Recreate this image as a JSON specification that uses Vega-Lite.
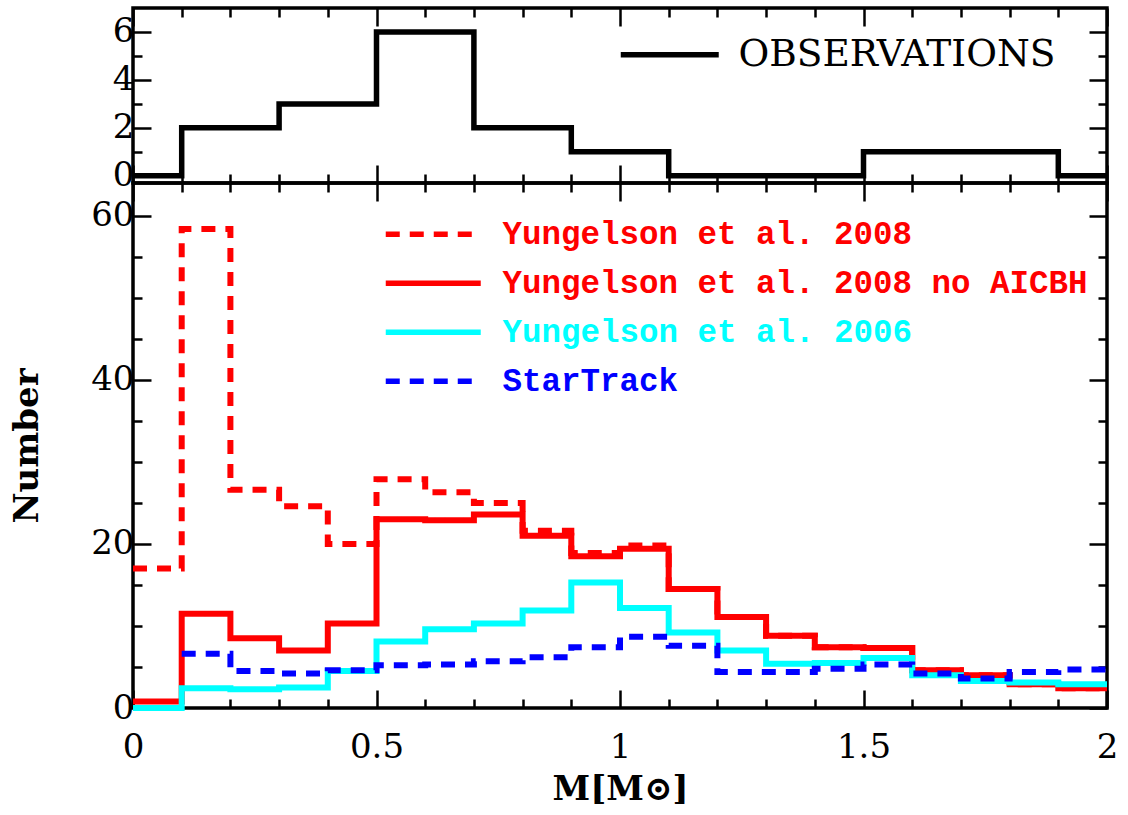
{
  "$schema": "https://vega.github.io/schema/vega-lite/v6.json",
  "background": "white",
  "padding": {"left": 8, "top": 5, "right": 5, "bottom": 5},
  "spacing": 0,
  "bounds": "flush",
  "config": {
    "view": {"stroke": "black", "strokeWidth": 3.5},
    "axis": {"domain": false, "grid": false, "labelFlush": false, "tickColor": "black", "tickWidth": 2.5, "labelFont": "DejaVu Serif", "labelFontSize": 34, "labelColor": "black", "titleFont": "DejaVu Serif", "titleFontSize": 34, "titleFontWeight": "bold", "titleColor": "black"}
  },
  "resolve": {"scale": {"color": "independent", "strokeDash": "independent"}},
  "datasets": {
    "obs": [
      {"series": "OBSERVATIONS", "x": 0, "y": 0},
      {"series": "OBSERVATIONS", "x": 0.1, "y": 2},
      {"series": "OBSERVATIONS", "x": 0.3, "y": 3},
      {"series": "OBSERVATIONS", "x": 0.5, "y": 6},
      {"series": "OBSERVATIONS", "x": 0.7, "y": 2},
      {"series": "OBSERVATIONS", "x": 0.9, "y": 1},
      {"series": "OBSERVATIONS", "x": 1.1, "y": 0},
      {"series": "OBSERVATIONS", "x": 1.5, "y": 1},
      {"series": "OBSERVATIONS", "x": 1.9, "y": 0},
      {"series": "OBSERVATIONS", "x": 2.0, "y": 0}
    ],
    "models": [
      {"series": "Yungelson et al. 2008", "x": 0, "y": 17.0},
      {"series": "Yungelson et al. 2008", "x": 0.1, "y": 58.4},
      {"series": "Yungelson et al. 2008", "x": 0.2, "y": 26.6},
      {"series": "Yungelson et al. 2008", "x": 0.3, "y": 24.6},
      {"series": "Yungelson et al. 2008", "x": 0.4, "y": 20.0},
      {"series": "Yungelson et al. 2008", "x": 0.5, "y": 27.9},
      {"series": "Yungelson et al. 2008", "x": 0.6, "y": 26.3},
      {"series": "Yungelson et al. 2008", "x": 0.7, "y": 25.0},
      {"series": "Yungelson et al. 2008", "x": 0.8, "y": 21.6},
      {"series": "Yungelson et al. 2008", "x": 0.9, "y": 18.9},
      {"series": "Yungelson et al. 2008", "x": 1.0, "y": 19.8},
      {"series": "Yungelson et al. 2008", "x": 1.1, "y": 14.5},
      {"series": "Yungelson et al. 2008", "x": 1.2, "y": 11.1},
      {"series": "Yungelson et al. 2008", "x": 1.3, "y": 8.8},
      {"series": "Yungelson et al. 2008", "x": 1.4, "y": 7.4},
      {"series": "Yungelson et al. 2008", "x": 1.5, "y": 7.3},
      {"series": "Yungelson et al. 2008", "x": 1.6, "y": 4.6},
      {"series": "Yungelson et al. 2008", "x": 1.7, "y": 4.0},
      {"series": "Yungelson et al. 2008", "x": 1.8, "y": 2.9},
      {"series": "Yungelson et al. 2008", "x": 1.9, "y": 2.4},
      {"series": "Yungelson et al. 2008", "x": 2.0, "y": 2.4},
      {"series": "Yungelson et al. 2008 no AICBH", "x": 0, "y": 0.8},
      {"series": "Yungelson et al. 2008 no AICBH", "x": 0.1, "y": 11.5},
      {"series": "Yungelson et al. 2008 no AICBH", "x": 0.2, "y": 8.5},
      {"series": "Yungelson et al. 2008 no AICBH", "x": 0.3, "y": 7.0},
      {"series": "Yungelson et al. 2008 no AICBH", "x": 0.4, "y": 10.3},
      {"series": "Yungelson et al. 2008 no AICBH", "x": 0.5, "y": 23.0},
      {"series": "Yungelson et al. 2008 no AICBH", "x": 0.6, "y": 22.9},
      {"series": "Yungelson et al. 2008 no AICBH", "x": 0.7, "y": 23.6},
      {"series": "Yungelson et al. 2008 no AICBH", "x": 0.8, "y": 21.0},
      {"series": "Yungelson et al. 2008 no AICBH", "x": 0.9, "y": 18.5},
      {"series": "Yungelson et al. 2008 no AICBH", "x": 1.0, "y": 19.4},
      {"series": "Yungelson et al. 2008 no AICBH", "x": 1.1, "y": 14.5},
      {"series": "Yungelson et al. 2008 no AICBH", "x": 1.2, "y": 11.1},
      {"series": "Yungelson et al. 2008 no AICBH", "x": 1.3, "y": 8.8},
      {"series": "Yungelson et al. 2008 no AICBH", "x": 1.4, "y": 7.4},
      {"series": "Yungelson et al. 2008 no AICBH", "x": 1.5, "y": 7.3},
      {"series": "Yungelson et al. 2008 no AICBH", "x": 1.6, "y": 4.6},
      {"series": "Yungelson et al. 2008 no AICBH", "x": 1.7, "y": 4.0},
      {"series": "Yungelson et al. 2008 no AICBH", "x": 1.8, "y": 2.9},
      {"series": "Yungelson et al. 2008 no AICBH", "x": 1.9, "y": 2.4},
      {"series": "Yungelson et al. 2008 no AICBH", "x": 2.0, "y": 2.4},
      {"series": "Yungelson et al. 2006", "x": 0, "y": 0},
      {"series": "Yungelson et al. 2006", "x": 0.1, "y": 2.4},
      {"series": "Yungelson et al. 2006", "x": 0.2, "y": 2.3},
      {"series": "Yungelson et al. 2006", "x": 0.3, "y": 2.5},
      {"series": "Yungelson et al. 2006", "x": 0.4, "y": 4.5},
      {"series": "Yungelson et al. 2006", "x": 0.5, "y": 8.1},
      {"series": "Yungelson et al. 2006", "x": 0.6, "y": 9.6},
      {"series": "Yungelson et al. 2006", "x": 0.7, "y": 10.3},
      {"series": "Yungelson et al. 2006", "x": 0.8, "y": 11.9},
      {"series": "Yungelson et al. 2006", "x": 0.9, "y": 15.3},
      {"series": "Yungelson et al. 2006", "x": 1.0, "y": 12.2},
      {"series": "Yungelson et al. 2006", "x": 1.1, "y": 9.2},
      {"series": "Yungelson et al. 2006", "x": 1.2, "y": 7.0},
      {"series": "Yungelson et al. 2006", "x": 1.3, "y": 5.4},
      {"series": "Yungelson et al. 2006", "x": 1.4, "y": 5.5},
      {"series": "Yungelson et al. 2006", "x": 1.5, "y": 6.1},
      {"series": "Yungelson et al. 2006", "x": 1.6, "y": 4.0},
      {"series": "Yungelson et al. 2006", "x": 1.7, "y": 3.3},
      {"series": "Yungelson et al. 2006", "x": 1.8, "y": 3.1},
      {"series": "Yungelson et al. 2006", "x": 1.9, "y": 2.9},
      {"series": "Yungelson et al. 2006", "x": 2.0, "y": 2.9},
      {"series": "StarTrack", "x": 0.1, "y": 6.6},
      {"series": "StarTrack", "x": 0.2, "y": 4.5},
      {"series": "StarTrack", "x": 0.3, "y": 4.2},
      {"series": "StarTrack", "x": 0.4, "y": 4.6},
      {"series": "StarTrack", "x": 0.5, "y": 5.2},
      {"series": "StarTrack", "x": 0.6, "y": 5.3},
      {"series": "StarTrack", "x": 0.7, "y": 5.7},
      {"series": "StarTrack", "x": 0.8, "y": 6.2},
      {"series": "StarTrack", "x": 0.9, "y": 7.4},
      {"series": "StarTrack", "x": 1.0, "y": 8.7},
      {"series": "StarTrack", "x": 1.1, "y": 7.6},
      {"series": "StarTrack", "x": 1.2, "y": 4.4},
      {"series": "StarTrack", "x": 1.3, "y": 4.4},
      {"series": "StarTrack", "x": 1.4, "y": 4.8},
      {"series": "StarTrack", "x": 1.5, "y": 5.3},
      {"series": "StarTrack", "x": 1.6, "y": 4.2},
      {"series": "StarTrack", "x": 1.7, "y": 3.6},
      {"series": "StarTrack", "x": 1.8, "y": 4.4},
      {"series": "StarTrack", "x": 1.9, "y": 4.7},
      {"series": "StarTrack", "x": 2.0, "y": 4.7}
    ]
  },
  "vconcat": [
    {
      "width": 974,
      "height": 175,
      "data": {"name": "obs"},
      "resolve": {"axis": {"x": "independent", "y": "independent"}},
      "layer": [
        {
          "mark": {"type": "line", "interpolate": "step-after", "strokeWidth": 5.5, "strokeCap": "butt", "strokeJoin": "miter"},
          "encoding": {
            "x": {"field": "x", "type": "quantitative", "scale": {"domain": [0, 2], "nice": false, "zero": false},
              "axis": {"orient": "bottom", "values": [0,0.1,0.2,0.3,0.4,0.5,0.6,0.7,0.8,0.9,1,1.1,1.2,1.3,1.4,1.5,1.6,1.7,1.8,1.9,2], "labels": false, "title": null,
                "tickSize": {"condition": {"test": "abs(datum.value*2 - round(datum.value*2)) < 0.001", "value": -18}, "value": -9}}},
            "y": {"field": "y", "type": "quantitative", "scale": {"domain": [-0.3, 7], "nice": false, "zero": false},
              "axis": {"orient": "left", "values": [0,1,2,3,4,5,6], "format": "d", "title": null, "labelPadding": 17,
                "labelExpr": "datum.value % 2 === 0 ? datum.label : ''",
                "tickSize": {"condition": {"test": "datum.value % 2 === 0", "value": -18}, "value": -9}}},
            "color": {"field": "series", "type": "nominal", "scale": {"domain": ["OBSERVATIONS"], "range": ["black"]},
              "legend": {"title": null, "orient": "none", "legendX": 518, "legendY": 28, "padding": 0,
                "symbolType": "M-4,0H4", "symbolSize": 600, "symbolStrokeWidth": 5.5, "symbolStrokeColor": "black",
                "labelFont": "DejaVu Serif", "labelFontSize": 37.5, "labelColor": "black", "labelOffset": 50, "labelLimit": 1000}}
          }
        },
        {
          "mark": {"type": "point", "opacity": 0},
          "encoding": {
            "x": {"field": "x", "type": "quantitative",
              "axis": {"orient": "top", "values": [0,0.1,0.2,0.3,0.4,0.5,0.6,0.7,0.8,0.9,1,1.1,1.2,1.3,1.4,1.5,1.6,1.7,1.8,1.9,2], "labels": false, "title": null,
                "tickSize": {"condition": {"test": "abs(datum.value*2 - round(datum.value*2)) < 0.001", "value": -18}, "value": -9}}},
            "y": {"field": "y", "type": "quantitative",
              "axis": {"orient": "right", "values": [0,1,2,3,4,5,6], "labels": false, "title": null,
                "tickSize": {"condition": {"test": "datum.value % 2 === 0", "value": -18}, "value": -9}}}
          }
        }
      ]
    },
    {
      "width": 974,
      "height": 525,
      "data": {"name": "models"},
      "resolve": {"axis": {"x": "independent", "y": "independent"}},
      "layer": [
        {
          "transform": [{"filter": "datum.series === 'Yungelson et al. 2008'"}],
          "mark": {"type": "line", "interpolate": "step-after", "strokeWidth": 6, "strokeCap": "butt", "strokeJoin": "miter"},
          "encoding": {
            "x": {"field": "x", "type": "quantitative", "scale": {"domain": [0, 2], "nice": false, "zero": false},
              "axis": {"orient": "bottom", "values": [0,0.1,0.2,0.3,0.4,0.5,0.6,0.7,0.8,0.9,1,1.1,1.2,1.3,1.4,1.5,1.6,1.7,1.8,1.9,2], "format": "~g", "title": "M[M⊙]", "labelPadding": 40, "titlePadding": 8,
                "labelExpr": "abs(datum.value*2 - round(datum.value*2)) < 0.001 ? datum.label : ''",
                "tickSize": {"condition": {"test": "abs(datum.value*2 - round(datum.value*2)) < 0.001", "value": -18}, "value": -9}}},
            "y": {"field": "y", "type": "quantitative", "scale": {"domain": [0, 64], "nice": false, "zero": false},
              "axis": {"orient": "left", "values": [0,5,10,15,20,25,30,35,40,45,50,55,60], "format": "d", "title": "Number", "labelPadding": 17, "titlePadding": 46,
                "labelExpr": "datum.value % 20 === 0 ? datum.label : ''",
                "tickSize": {"condition": {"test": "datum.value % 20 === 0", "value": -18}, "value": -9}}},
            "color": {"field": "series", "type": "nominal",
              "scale": {"domain": ["Yungelson et al. 2008", "Yungelson et al. 2008 no AICBH", "Yungelson et al. 2006", "StarTrack"], "range": ["#ff0000", "#ff0000", "#00ffff", "#0000ff"]},
              "legend": {"title": null, "orient": "none", "legendX": 284, "legendY": 35, "padding": 0,
                "symbolType": "M-4,0H4", "symbolSize": 564, "symbolStrokeWidth": 5.5,
                "labelFont": "Liberation Mono", "labelFontSize": 32.5, "labelFontWeight": "bold", "labelOffset": 53, "labelLimit": 1000, "rowPadding": 16,
                "encode": {"labels": {"update": {"fill": {"signal": "datum.value === 'StarTrack' ? '#0000ff' : datum.value === 'Yungelson et al. 2006' ? '#00ffff' : '#ff0000'"}}}}}},
            "strokeDash": {"field": "series", "type": "nominal",
              "scale": {"domain": ["Yungelson et al. 2008", "Yungelson et al. 2008 no AICBH", "Yungelson et al. 2006", "StarTrack"], "range": [[14, 10], [1, 0], [1, 0], [14, 10]]}}
          }
        },
        {
          "transform": [{"filter": "datum.series === 'Yungelson et al. 2008 no AICBH'"}],
          "mark": {"type": "line", "interpolate": "step-after", "strokeWidth": 6, "strokeCap": "butt", "strokeJoin": "miter"},
          "encoding": {
            "x": {"field": "x", "type": "quantitative", "axis": null},
            "y": {"field": "y", "type": "quantitative", "axis": null},
            "color": {"field": "series", "type": "nominal"},
            "strokeDash": {"field": "series", "type": "nominal"}
          }
        },
        {
          "transform": [{"filter": "datum.series === 'Yungelson et al. 2006'"}],
          "mark": {"type": "line", "interpolate": "step-after", "strokeWidth": 6, "strokeCap": "butt", "strokeJoin": "miter"},
          "encoding": {
            "x": {"field": "x", "type": "quantitative", "axis": null},
            "y": {"field": "y", "type": "quantitative", "axis": null},
            "color": {"field": "series", "type": "nominal"},
            "strokeDash": {"field": "series", "type": "nominal"}
          }
        },
        {
          "transform": [{"filter": "datum.series === 'StarTrack'"}],
          "mark": {"type": "line", "interpolate": "step-after", "strokeWidth": 6, "strokeCap": "butt", "strokeJoin": "miter"},
          "encoding": {
            "x": {"field": "x", "type": "quantitative", "axis": null},
            "y": {"field": "y", "type": "quantitative", "axis": null},
            "color": {"field": "series", "type": "nominal"},
            "strokeDash": {"field": "series", "type": "nominal"}
          }
        },
        {
          "mark": {"type": "point", "opacity": 0},
          "encoding": {
            "x": {"field": "x", "type": "quantitative",
              "axis": {"orient": "top", "values": [0,0.1,0.2,0.3,0.4,0.5,0.6,0.7,0.8,0.9,1,1.1,1.2,1.3,1.4,1.5,1.6,1.7,1.8,1.9,2], "labels": false, "title": null,
                "tickSize": {"condition": {"test": "abs(datum.value*2 - round(datum.value*2)) < 0.001", "value": -18}, "value": -9}}},
            "y": {"field": "y", "type": "quantitative",
              "axis": {"orient": "right", "values": [0,5,10,15,20,25,30,35,40,45,50,55,60], "labels": false, "title": null,
                "tickSize": {"condition": {"test": "datum.value % 20 === 0", "value": -18}, "value": -9}}}
          }
        }
      ]
    }
  ]
}
